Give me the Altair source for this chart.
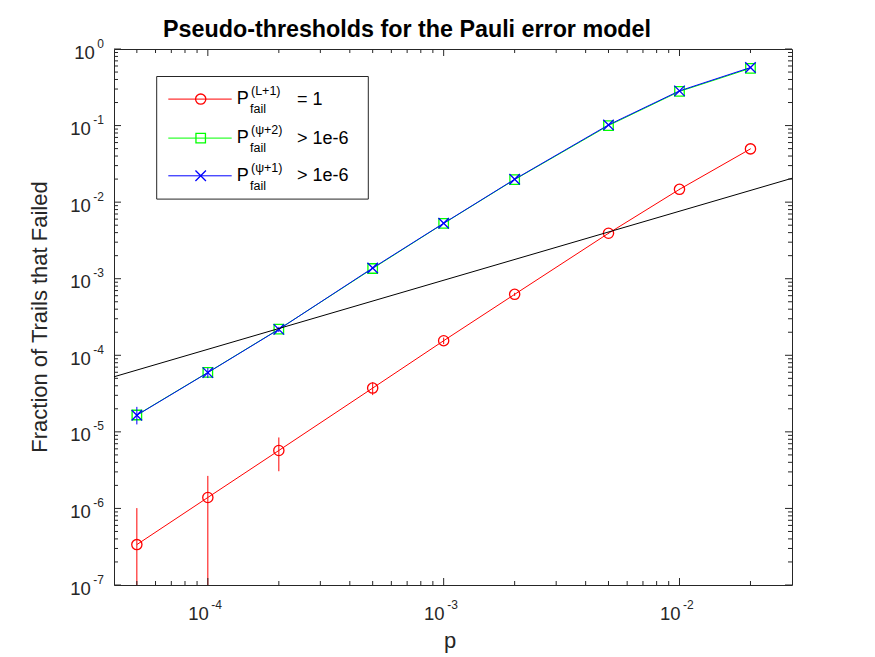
import altair as alt
import pandas as pd

# ---------------- data ----------------
p_vals = [5e-5, 1e-4, 2e-4, 5e-4, 1e-3, 2e-3, 5e-3, 1e-2, 2e-2]

red_y = [3.37e-7, 1.39e-6, 5.71e-6, 3.73e-5, 1.55e-4, 6.25e-4, 3.92e-3, 1.47e-2, 4.96e-2]
red_lo = [1e-9, 1e-9, 3.06e-6, 3.02e-5, 1.40e-4, 5.95e-4, 3.85e-3, 1.45e-2, 4.93e-2]
red_hi = [1.01e-6, 2.66e-6, 8.45e-6, 4.45e-5, 1.70e-4, 6.55e-4, 3.99e-3, 1.49e-2, 4.99e-2]

green_y = [1.66e-5, 5.97e-5, 2.19e-4, 1.36e-3, 5.27e-3, 1.97e-2, 0.100, 0.279, 0.560]

blue_y = [1.65e-5, 5.94e-5, 2.18e-4, 1.38e-3, 5.30e-3, 1.99e-2, 0.102, 0.284, 0.573]
blue_lo = [1.25e-5, 5.05e-5, 2.01e-4, 1.34e-3, 5.22e-3, 1.97e-2, 0.101, 0.283, 0.572]
blue_hi = [2.12e-5, 6.85e-5, 2.35e-4, 1.42e-3, 5.38e-3, 2.01e-2, 0.103, 0.285, 0.574]

ref_p = [4e-5, 3e-2]
ref_y = [5.24e-5, 2.05e-2]

x_major = [1e-4, 1e-3, 1e-2]
x_major_exp = ["-4", "-3", "-2"]
x_minor = [5e-5, 6e-5, 7e-5, 8e-5, 9e-5,
           2e-4, 3e-4, 4e-4, 5e-4, 6e-4, 7e-4, 8e-4, 9e-4,
           2e-3, 3e-3, 4e-3, 5e-3, 6e-3, 7e-3, 8e-3, 9e-3,
           2e-2]
y_major = [1e0, 1e-1, 1e-2, 1e-3, 1e-4, 1e-5, 1e-6, 1e-7]
y_major_exp = ["0", "-1", "-2", "-3", "-4", "-5", "-6", "-7"]
y_minor = [m * 10.0 ** e for e in range(-7, 0) for m in range(2, 10)]

leg_colors = ["#ff0000", "#00ff00", "#0000ff"]
leg_sup = ["(L+1)", "(\u03c8+2)", "(\u03c8+1)"]
leg_suffix = ["= 1", "> 1e-6", "> 1e-6"]

title_text = "Pseudo-thresholds for the Pauli error model"
x_title = "p"
y_title = "Fraction of Trails that Failed"

# ---------------- layout ----------------
W, H = 678, 536
FONT = "Liberation Sans"
TXT = "#262626"
XPATH = "M-1,-1L1,1M-1,1L1,-1"

xs = alt.Scale(type="log", domain=[4e-5, 3e-2], nice=False)
ys = alt.Scale(type="log", domain=[1e-7, 1], nice=False)

def X(f="p"):
    return alt.X(f"{f}:Q", scale=xs, axis=None)

def Y(f="y"):
    return alt.Y(f"{f}:Q", scale=ys, axis=None)

red_df = pd.DataFrame({"p": p_vals, "y": red_y, "lo": red_lo, "hi": red_hi})
green_df = pd.DataFrame({"p": p_vals, "y": green_y})
blue_df = pd.DataFrame({"p": p_vals, "y": blue_y, "lo": blue_lo, "hi": blue_hi})
ref_df = pd.DataFrame({"p": ref_p, "y": ref_y})

layers = []

# red
layers.append(alt.Chart(red_df).mark_rule(color="#ff0000", strokeWidth=1, clip=True)
              .encode(x=X(), y=Y("lo"), y2="hi"))
layers.append(alt.Chart(red_df).mark_line(color="#ff0000", strokeWidth=1, clip=True)
              .encode(x=X(), y=Y()))
layers.append(alt.Chart(red_df).mark_point(shape="circle", size=105, filled=False,
                                           color="#ff0000", strokeWidth=1.3, opacity=1, clip=True)
              .encode(x=X(), y=Y()))
# green
layers.append(alt.Chart(green_df).mark_line(color="#00ff00", strokeWidth=1, clip=True)
              .encode(x=X(), y=Y()))
layers.append(alt.Chart(green_df).mark_point(shape="square", size=90, filled=False,
                                             color="#00ff00", strokeWidth=1.3, opacity=1, clip=True)
              .encode(x=X(), y=Y()))
# blue
layers.append(alt.Chart(blue_df).mark_rule(color="#0000ff", strokeWidth=1, clip=True)
              .encode(x=X(), y=Y("lo"), y2="hi"))
layers.append(alt.Chart(blue_df).mark_line(color="#0000ff", strokeWidth=1, clip=True)
              .encode(x=X(), y=Y()))
layers.append(alt.Chart(blue_df).mark_point(shape=XPATH, size=110, filled=False,
                                            color="#0000ff", strokeWidth=1.3, opacity=1, clip=True)
              .encode(x=X(), y=Y()))
# black reference line
layers.append(alt.Chart(ref_df).mark_line(color="#000000", strokeWidth=1, clip=True)
              .encode(x=X(), y=Y()))

# ---------------- ticks (inward, on all four sides) ----------------
xmaj_df = pd.DataFrame({"p": x_major, "e": x_major_exp})
xmin_df = pd.DataFrame({"p": x_minor})
ymaj_df = pd.DataFrame({"v": y_major, "e": y_major_exp})
ymin_df = pd.DataFrame({"v": y_minor})

for df, L in [(xmaj_df, 7), (xmin_df, 4)]:
    layers.append(alt.Chart(df).mark_rule(color=TXT, strokeWidth=1)
                  .encode(x=X(), y=alt.value(H), y2=alt.value(H - L)))
    layers.append(alt.Chart(df).mark_rule(color=TXT, strokeWidth=1)
                  .encode(x=X(), y=alt.value(0), y2=alt.value(L)))
for df, L in [(ymaj_df, 7), (ymin_df, 4)]:
    layers.append(alt.Chart(df).mark_rule(color=TXT, strokeWidth=1)
                  .encode(y=Y("v"), x=alt.value(0), x2=alt.value(L)))
    layers.append(alt.Chart(df).mark_rule(color=TXT, strokeWidth=1)
                  .encode(y=Y("v"), x=alt.value(W), x2=alt.value(W - L)))

# ---------------- tick labels ----------------
BASE_FS = 18.5
EXP_FS = 12
layers.append(alt.Chart(xmaj_df).mark_text(align="right", baseline="alphabetic", dx=1,
                                           font=FONT, fontSize=BASE_FS, color=TXT)
              .encode(x=X(), y=alt.value(H + 35), text=alt.value("10")))
layers.append(alt.Chart(xmaj_df).mark_text(align="left", baseline="alphabetic", dx=3.5,
                                           font=FONT, fontSize=EXP_FS, color=TXT)
              .encode(x=X(), y=alt.value(H + 24), text="e:N"))

layers.append(alt.Chart(ymaj_df).mark_text(align="right", baseline="alphabetic", dy=-1.5,
                                           font=FONT, fontSize=EXP_FS, color=TXT)
              .encode(y=Y("v"), x=alt.value(-10), text="e:N"))
ymaj0 = ymaj_df[ymaj_df["e"] == "0"]
ymajn = ymaj_df[ymaj_df["e"] != "0"]
layers.append(alt.Chart(ymaj0).mark_text(align="right", baseline="alphabetic", dy=9.5,
                                         font=FONT, fontSize=BASE_FS, color=TXT)
              .encode(y=Y("v"), x=alt.value(-10 - 6.7 - 2.4), text=alt.value("10")))
layers.append(alt.Chart(ymajn).mark_text(align="right", baseline="alphabetic", dy=9.5,
                                         font=FONT, fontSize=BASE_FS, color=TXT)
              .encode(y=Y("v"), x=alt.value(-10 - 10.7 - 2.4), text=alt.value("10")))

# ---------------- titles ----------------
one = pd.DataFrame({"k": [0]})
layers.append(alt.Chart(pd.DataFrame({"t": [title_text]}))
              .mark_text(align="left", baseline="alphabetic", font=FONT, fontSize=23.3,
                         fontWeight="bold", color="#000000")
              .encode(x=alt.value(49), y=alt.value(-12), text="t:N"))
layers.append(alt.Chart(pd.DataFrame({"t": [x_title]}))
              .mark_text(align="center", baseline="alphabetic", font=FONT, fontSize=22, color=TXT)
              .encode(x=alt.value(W / 2 - 3), y=alt.value(H + 63), text="t:N"))
layers.append(alt.Chart(pd.DataFrame({"t": [y_title]}))
              .mark_text(align="center", baseline="middle", font=FONT, fontSize=22, color=TXT,
                         angle=270)
              .encode(x=alt.value(-74), y=alt.value(268), text="t:N"))

# ---------------- legend ----------------
layers.append(alt.Chart(one).mark_rect(fill="white", stroke=TXT, strokeWidth=1)
              .encode(x=alt.value(42.7), x2=alt.value(254.3), y=alt.value(27.5), y2=alt.value(150.1)))
row_y = [50.1, 89.1, 126.8]
shapes = ["circle", "square", XPATH]
sizes = [105, 90, 110]
for i in range(3):
    ry = row_y[i]
    row = pd.DataFrame({"sup": [leg_sup[i]], "suf": [leg_suffix[i]]})
    layers.append(alt.Chart(row).mark_rule(color=leg_colors[i], strokeWidth=1)
                  .encode(x=alt.value(54.3), x2=alt.value(117.7), y=alt.value(ry)))
    layers.append(alt.Chart(row).mark_point(shape=shapes[i], size=sizes[i], filled=False,
                                            color=leg_colors[i], strokeWidth=1.3, opacity=1)
                  .encode(x=alt.value(86.7), y=alt.value(ry)))
    layers.append(alt.Chart(row).mark_text(align="left", baseline="alphabetic", font=FONT,
                                           fontSize=18, color="#000000")
                  .encode(x=alt.value(122.7), y=alt.value(ry + 5), text=alt.value("P")))
    layers.append(alt.Chart(row).mark_text(align="left", baseline="alphabetic", font=FONT,
                                           fontSize=12.5, color="#000000")
                  .encode(x=alt.value(137), y=alt.value(ry - 4), text="sup:N"))
    layers.append(alt.Chart(row).mark_text(align="left", baseline="alphabetic", font=FONT,
                                           fontSize=12.5, color="#000000")
                  .encode(x=alt.value(136), y=alt.value(ry + 14), text=alt.value("fail")))
    layers.append(alt.Chart(row).mark_text(align="left", baseline="alphabetic", font=FONT,
                                           fontSize=18, color="#000000")
                  .encode(x=alt.value(183), y=alt.value(ry + 5.5), text="suf:N"))

chart = alt.layer(*layers).properties(
    width=W, height=H,
    autosize=alt.AutoSizeParams(type="none"),
    padding={"left": 114, "top": 49, "right": 83, "bottom": 72},
    background="white",
).configure_view(stroke=TXT, strokeWidth=1)

chart.save("out.html", embed_options={"renderer": "svg", "actions": False})
